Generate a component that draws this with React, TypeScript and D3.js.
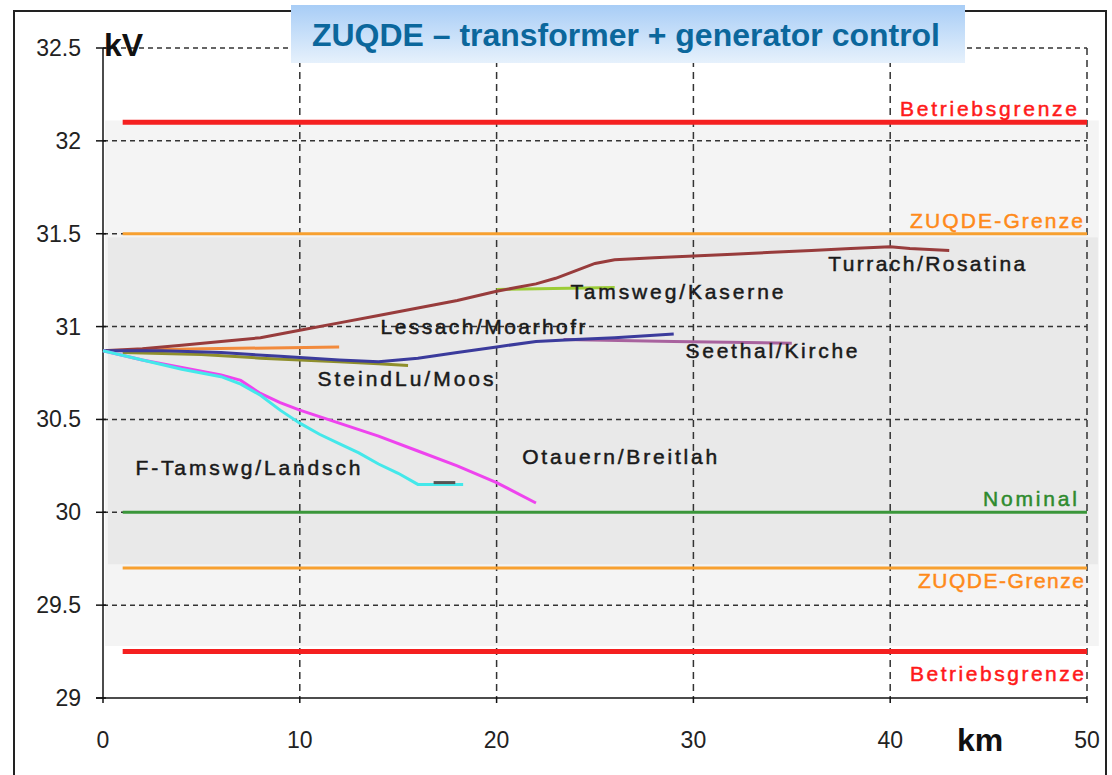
import React from 'react';
import * as d3 from 'd3';

// x = distance (km), y = voltage (kV)
const xTicks = [0, 10, 20, 30, 40, 50];
const yTicks = [29, 29.5, 30, 30.5, 31, 31.5, 32, 32.5];

const limitNames = ['Betriebsgrenze', 'ZUQDE-Grenze', 'Nominal', 'ZUQDE-Grenze', 'Betriebsgrenze'];
const limitValues = [32.1, 31.5, 30, 29.7, 29.25];
const limitColors = ['#f52020', '#f7a030', '#3a963a', '#f7a030', '#f52020'];
const limitTextColors = ['#ff1a1a', '#ff8a1a', '#2e8b2e', '#ff8a1a', '#ff1a1a'];
const limitLabelWidth = [177, 173, 94, 166, 174];

const turrachKm = [0, 2, 4, 6, 8, 10, 12, 14, 16, 18, 20, 21, 22, 23, 24, 25, 26, 28, 30, 32, 34, 36, 38, 40, 41, 43];
const turrachKv = [30.87, 30.88, 30.9, 30.92, 30.94, 30.98, 31.02, 31.06, 31.1, 31.14, 31.19, 31.21, 31.23, 31.26, 31.3, 31.34, 31.36, 31.37, 31.38, 31.39, 31.4, 31.41, 31.42, 31.43, 31.42, 31.41];

const kaserneKm = [20, 26];
const kaserneKv = [31.2, 31.21];

const lessachKm = [0.5, 5, 12];
const lessachKv = [30.87, 30.88, 30.89];

const blueKm = [0, 3, 6, 9, 12, 14, 16, 18, 20, 22, 24, 26, 29];
const blueKv = [30.87, 30.87, 30.86, 30.84, 30.82, 30.81, 30.83, 30.86, 30.89, 30.92, 30.93, 30.94, 30.96];

const steindlKm = [1, 5, 8, 10, 12, 14, 15.5];
const steindlKv = [30.86, 30.85, 30.83, 30.82, 30.81, 30.8, 30.79];

const seethalKm = [23.4, 29, 35];
const seethalKv = [30.93, 30.92, 30.91];

const otauernKm = [0, 2, 4, 6, 7, 8, 9, 10, 12, 14, 16, 18, 20, 22];
const otauernKv = [30.87, 30.82, 30.78, 30.74, 30.71, 30.64, 30.59, 30.55, 30.48, 30.41, 30.33, 30.25, 30.16, 30.05];

const tamswgKm = [0, 2, 4, 6, 7, 8, 9, 10, 11, 12, 13, 14, 15, 16, 18.3];
const tamswgKv = [30.87, 30.82, 30.77, 30.73, 30.69, 30.63, 30.55, 30.48, 30.42, 30.37, 30.32, 30.26, 30.21, 30.15, 30.15];

const stubKm = [16.8, 17.9];
const stubKv = [30.16, 30.16];

const series = [
  { km: lessachKm, kv: lessachKv, color: '#f28a3c' },
  { km: steindlKm, kv: steindlKv, color: '#8f8f2c' },
  { km: kaserneKm, kv: kaserneKv, color: '#9ccc36' },
  { km: turrachKm, kv: turrachKv, color: '#983c3c' },
  { km: seethalKm, kv: seethalKv, color: '#a8629e' },
  { km: blueKm, kv: blueKv, color: '#3b3b9c' },
  { km: otauernKm, kv: otauernKv, color: '#ee44ee' },
  { km: tamswgKm, kv: tamswgKv, color: '#44e8ea' },
  { km: stubKm, kv: stubKv, color: '#555555' },
];

const seriesLabels = ['Turrach/Rosatina', 'Tamsweg/Kaserne', 'Lessach/Moarhofr', 'Seethal/Kirche', 'SteindLu/Moos', 'F-Tamswg/Landsch', 'Otauern/Breitlah'];
const labelKm = [36.85, 23.75, 14.1, 29.6, 10.9, 1.65, 21.3];
const labelKv = [31.3, 31.15, 30.96, 30.83, 30.68, 30.2, 30.26];
const labelWidth = [197, 213, 205, 172, 176, 225, 195];

export default function App() {
  const W = 1112;
  const H = 775;
  const x = d3.scaleLinear().domain([0, 50]).range([103, 1087]);
  const y = d3.scaleLinear().domain([29, 32.5]).range([698, 48]);

  const path = (km: number[], kv: number[]) =>
    d3
      .line<[number, number]>()
      .x(d => x(d[0]))
      .y(d => y(d[1]))(km.map((k, i) => [k, kv[i]])) || '';

  const font = 'Liberation Sans, Arial, sans-serif';

  return (
    <svg width={W} height={H} style={{ position: 'absolute', left: 0, top: 0, background: '#fff' }} fontFamily={font}>
      <defs>
        <linearGradient id="tg" x1="0" y1="0" x2="0" y2="1">
          <stop offset="0" stopColor="#a8cdf6" />
          <stop offset="1" stopColor="#e6f1fc" />
        </linearGradient>
      </defs>

      {/* outer frame */}
      <rect x={14} y={11} width={1092} height={H + 20} fill="none" stroke="#222" strokeWidth={2} />

      {/* bands */}
      <rect x={x(0.1)} y={y(32.11)} width={x(50.6) - x(0.1)} height={y(29.28) - y(32.11)} fill="#f4f4f4" />
      <rect x={x(0.25)} y={y(31.48)} width={x(50.55) - x(0.25)} height={y(29.72) - y(31.48)} fill="#e9e9e9" />

      {/* grid */}
      {yTicks.slice(1).map(t => (
        <line key={'gy' + t} x1={x(0)} x2={x(50)} y1={y(t)} y2={y(t)} stroke="#333" strokeWidth={1.5} strokeDasharray="5,4" />
      ))}
      {xTicks.slice(1).map(t => (
        <line key={'gx' + t} x1={x(t)} x2={x(t)} y1={y(32.5)} y2={y(29)} stroke="#333" strokeWidth={1.5} strokeDasharray="7,5" />
      ))}

      {/* axes */}
      <line x1={x(0)} x2={x(0)} y1={y(32.5)} y2={y(29)} stroke="#111" strokeWidth={1.5} />
      <line x1={x(0) - 7} x2={x(50)} y1={y(29)} y2={y(29)} stroke="#111" strokeWidth={1.5} />
      {yTicks.map(t => (
        <g key={'ty' + t}>
          <line x1={x(0) - 7} x2={x(0) + 3} y1={y(t)} y2={y(t)} stroke="#111" strokeWidth={1.5} />
          <text x={81} y={y(t) + 8} textAnchor="end" fontSize={23} fill="#222">
            {t}
          </text>
        </g>
      ))}
      {xTicks.map(t => (
        <g key={'tx' + t}>
          <line x1={x(t)} x2={x(t)} y1={y(29)} y2={y(29) + 5} stroke="#111" strokeWidth={1.5} />
          <text x={x(t)} y={748} textAnchor="middle" fontSize={23} fill="#222">
            {t}
          </text>
        </g>
      ))}
      <text x={104} y={56} fontSize={32} fontWeight="bold" fill="#111">kV</text>
      <text x={957} y={751} fontSize={32} fontWeight="bold" fill="#111">km</text>

      {/* limit lines */}
      {limitValues.map((v, i) => (
        <line
          key={'lim' + i}
          x1={x(1)}
          x2={x(50)}
          y1={y(v)}
          y2={y(v)}
          stroke={limitColors[i]}
          strokeWidth={i === 0 || i === 4 ? 5 : 3}
        />
      ))}
      {limitNames.map((n, i) => {
        const above = i < 3;
        const right = [1077, 1083, 1077, 1084, 1084][i];
        return (
          <text
            key={'ln' + i}
            x={right - limitLabelWidth[i]}
            y={above ? y(limitValues[i]) - 6 : y(limitValues[i]) + (i === 4 ? 29 : 20)}
            fontSize={21}
            fill={limitTextColors[i]}
            stroke={limitTextColors[i]}
            strokeWidth={0.5}
            textLength={limitLabelWidth[i]}
            lengthAdjust="spacing"
          >
            {n}
          </text>
        );
      })}

      {/* series */}
      {series.map((s, i) => (
        <path key={'s' + i} d={path(s.km, s.kv)} fill="none" stroke={s.color} strokeWidth={3} />
      ))}

      {/* series labels */}
      {seriesLabels.map((l, i) => (
        <text
          key={'sl' + i}
          x={x(labelKm[i])}
          y={y(labelKv[i])}
          fontSize={21}
          fill="#1a1a1a"
          stroke="#1a1a1a"
          strokeWidth={0.5}
          textLength={labelWidth[i]}
          lengthAdjust="spacing"
        >
          {l}
        </text>
      ))}

      {/* title box */}
      <rect x={291} y={5} width={674} height={58} fill="url(#tg)" />
      <text
        x={312}
        y={46}
        fontSize={32}
        fontWeight="bold"
        fill="#0b679c"
        textLength={628}
        lengthAdjust="spacingAndGlyphs"
      >
        ZUQDE – transformer + generator control
      </text>
    </svg>
  );
}
